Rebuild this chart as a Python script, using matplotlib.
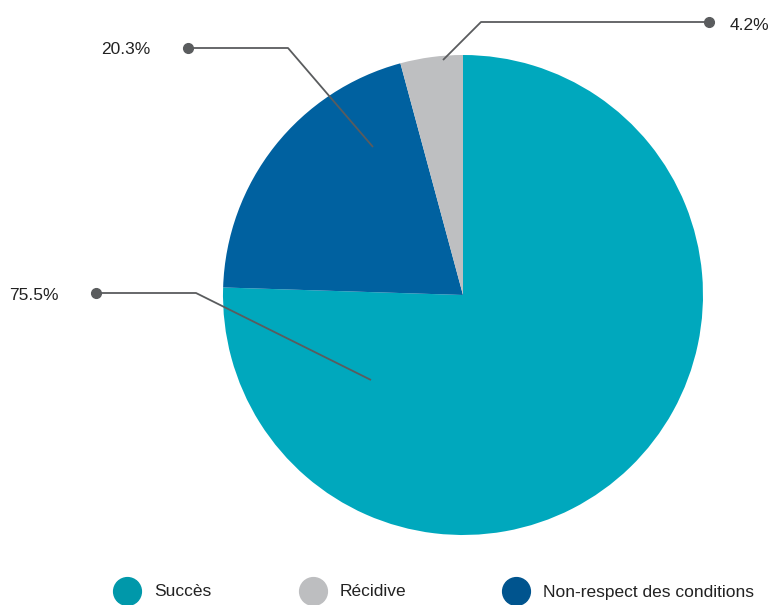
import matplotlib

matplotlib.use("Agg")

import matplotlib.pyplot as plt

categories = ["Succès", "Non-respect des conditions", "Récidive"]
shares = [75.5, 20.3, 4.2]
pct_labels = ["75.5%", "20.3%", "4.2%"]
legend_order = ["Succès", "Récidive", "Non-respect des conditions"]

WEDGE_COLORS = {
    "Succès": "#00A8BD",
    "Non-respect des conditions": "#0061A0",
    "Récidive": "#BEBFC1",
}
LEGEND_COLORS = {
    "Succès": "#0098AA",
    "Non-respect des conditions": "#00548E",
    "Récidive": "#BDBEC0",
}

W, H = 771, 605
plt.rcParams["font.family"] = ["Liberation Sans", "DejaVu Sans"]

fig = plt.figure(figsize=(W / 100, H / 100), dpi=100)
ax = fig.add_axes([0, 0, 1, 1])


def py(y):
    # pixel row (top-down) -> data y
    return H - y


ax.pie(
    shares,
    colors=[WEDGE_COLORS[c] for c in categories],
    startangle=90,
    counterclock=False,
    center=(463, py(295)),
    radius=240,
    frame=True,
    wedgeprops={"linewidth": 0},
)
ax.set_xlim(0, W)
ax.set_ylim(0, H)
ax.set_aspect("equal")
ax.axis("off")

# leader lines: (dot, elbow, tip), label position, alignment
callouts = {
    "75.5%": ((96, 293), (196, 293), (371, 380), (34, 295), "center"),
    "20.3%": ((188, 48), (288, 48), (373, 147), (126, 50), "center"),
    "4.2%": ((709, 22), (481, 22), (443, 60), (730, 26), "left"),
}
line_color = "#5A5C5E"
for label in pct_labels:
    dot, elbow, tip, txt, ha = callouts[label]
    xs = [dot[0], elbow[0], tip[0]]
    ys = [py(dot[1]), py(elbow[1]), py(tip[1])]
    ax.plot(xs, ys, color=line_color, lw=1.3, solid_capstyle="butt", zorder=3)
    ax.plot(dot[0], py(dot[1]), "o", color=line_color, ms=7, zorder=4)
    ax.text(txt[0], py(txt[1]), label, ha=ha, va="center",
            fontsize=12.5, color="#222222")

# legend
legend_x = [127, 313, 516]
for x, name in zip(legend_x, legend_order):
    ax.plot(x, py(591), "o", color=LEGEND_COLORS[name], ms=20, zorder=4)
    ax.text(x + 27, py(592), name, ha="left", va="center",
            fontsize=12.5, color="#222222")

fig.savefig("out.png", dpi=100)
